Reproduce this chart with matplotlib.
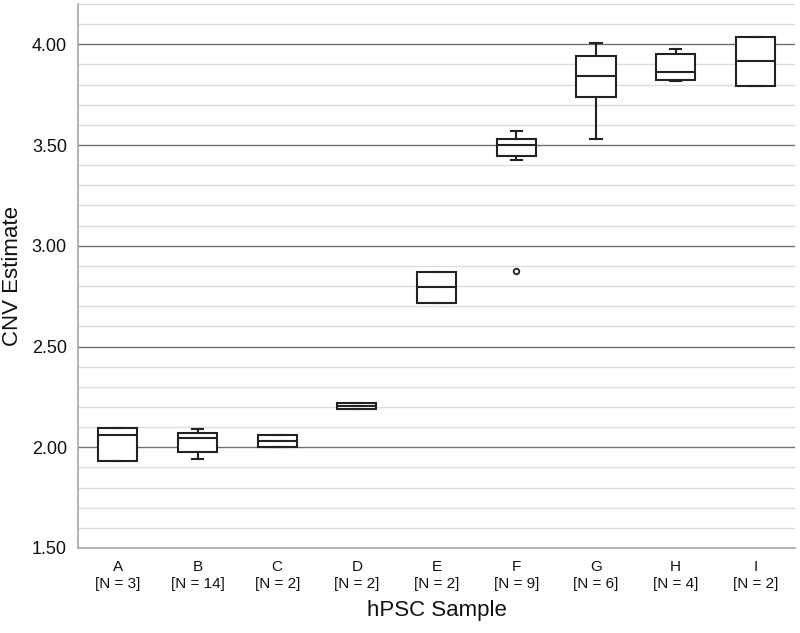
"""Box plot of CNV estimates per hPSC sample."""

import matplotlib.pyplot as plt
from matplotlib.ticker import MultipleLocator
import numpy as np

plt.rcParams['font.family'] = ['Liberation Sans', 'DejaVu Sans']

## Data.
samples = ["A", "B", "C", "D", "E", "F", "G", "H", "I"]
n_counts = [3, 14, 2, 2, 2, 9, 6, 4, 2]

q1 = [1.93, 1.975, 2.003, 2.192, 2.717, 3.446, 3.736, 3.821, 3.795]
medians = [2.063, 2.048, 2.033, 2.207, 2.793, 3.498, 3.841, 3.863, 3.917]
q3 = [2.094, 2.071, 2.063, 2.222, 2.869, 3.532, 3.940, 3.954, 4.038]
whisk_low = [1.93, 1.944, 2.003, 2.192, 2.717, 3.426, 3.529, 3.818, 3.795]
whisk_high = [2.094, 2.093, 2.063, 2.222, 2.869, 3.568, 4.007, 3.975, 4.038]
outliers = [[], [], [], [], [], [2.877], [], [], []]


## Build the stats dicts that bxp wants.
stats = []
for i, name in enumerate(samples):
    stats.append({
        "label": f"{name}\n[N = {n_counts[i]}]",
        "q1": q1[i],
        "med": medians[i],
        "q3": q3[i],
        "whislo": whisk_low[i],
        "whishi": whisk_high[i],
        "fliers": outliers[i],
    })

fig = plt.figure(figsize=(8, 6.33), dpi=100)
ax = fig.add_axes([0.0975, 0.1343, 0.8965, 0.8594])

line_col = "#222222"
ax.bxp(
    stats,
    positions=np.arange(len(samples)),
    widths=0.49,
    capwidths=0.14,
    showfliers=True,
    patch_artist=True,
    boxprops=dict(facecolor="white", edgecolor=line_col, linewidth=1.5),
    medianprops=dict(color=line_col, linewidth=1.5),
    whiskerprops=dict(color=line_col, linewidth=1.5),
    capprops=dict(color=line_col, linewidth=1.5),
    flierprops=dict(marker="o", markersize=4, markerfacecolor="white",
                    markeredgecolor=line_col, markeredgewidth=1.3),
    zorder=3,
)

# Axis limits and grid.
ax.set_xlim(-0.5, len(samples) - 0.5)
ax.set_ylim(1.5, 4.2)
ax.yaxis.set_major_locator(MultipleLocator(0.5))
ax.yaxis.set_minor_locator(MultipleLocator(0.1))
ax.yaxis.set_major_formatter(lambda v, pos: f"{v:.2f}")
ax.grid(axis="y", which="major", color="#707070", linewidth=1.0, zorder=0)
ax.grid(axis="y", which="minor", color="#dcdcdc", linewidth=1.0, zorder=0)
ax.set_axisbelow(True)

for side in ["top", "right"]:
    ax.spines[side].set_visible(False)
for side in ["left", "bottom"]:
    ax.spines[side].set_color("#a8a8a8")
    ax.spines[side].set_linewidth(1.2)

ax.tick_params(axis="both", which="both", length=0)
ax.tick_params(axis="y", labelsize=13, pad=8, colors="#111111")
ax.tick_params(axis="x", labelsize=11, pad=9, colors="#111111")

ax.set_ylabel("CNV Estimate", fontsize=16, color="#111111")
ax.yaxis.set_label_coords(-0.076, 0.5)
ax.set_xlabel("hPSC Sample", fontsize=16, labelpad=7, color="#111111")

fig.savefig("out.png", dpi=100)
